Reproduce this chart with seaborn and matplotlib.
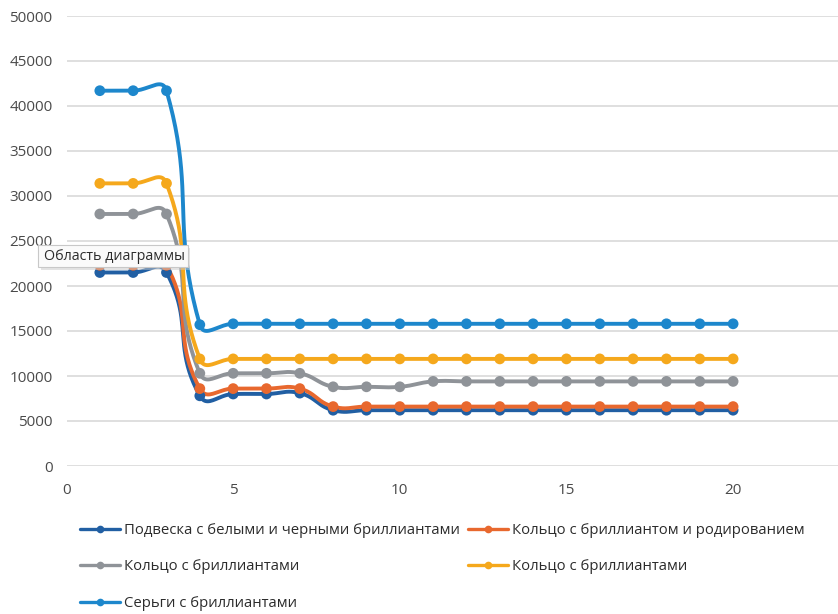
import numpy as np
import pandas as pd
import seaborn as sns
import matplotlib.pyplot as plt
from matplotlib.lines import Line2D
from matplotlib.patches import FancyBboxPatch

# --- data -------------------------------------------------------------
x = list(range(1, 21))

podveska = [21500, 21500, 21500, 7800, 8000, 8000, 8100] + [6200] * 13
koltso_rod = [22300, 22300, 22300, 8600, 8600, 8600, 8600] + [6600] * 13
koltso_gray = [28000, 28000, 28000, 10300, 10300, 10300, 10300,
               8800, 8800, 8800] + [9400] * 10
koltso_yellow = [31400, 31400, 31400, 11900] + [11900] * 16
sergi = [41700, 41700, 41700, 15700] + [15800] * 16

series_names = [
    "Подвеска с белыми и черными бриллиантами",
    "Кольцо с бриллиантом и родированием",
    "Кольцо с бриллиантами",
    "Кольцо с бриллиантами",
    "Серьги с бриллиантами",
]
series_values = [podveska, koltso_rod, koltso_gray, koltso_yellow, sergi]
colors = ["#215fa3", "#e8682e", "#8f9398", "#f5a81c", "#1d87cc"]

y_ticks = [0, 5000, 10000, 15000, 20000, 25000, 30000, 35000, 40000, 45000, 50000]
x_ticks = [0, 5, 10, 15, 20]

# --- layout -----------------------------------------------------------
W, H = 838, 614
X0, PX_PER_X = 66.5, 33.33      # pixel of x=0, pixels per x unit
Y0, Y50 = 466, 16               # pixel rows of y=0 and y=50000
PX_PER_Y = (Y0 - Y50) / 50000


def smooth(xs, ys, k=0.45, n=24):
    """Bezier smoothing in screen space (control arms scaled by segment length)."""
    P = np.column_stack([np.asarray(xs, float) * PX_PER_X,
                         np.asarray(ys, float) * PX_PER_Y])
    m = len(P)
    out = []
    t = np.linspace(0, 1, n)[:, None]
    for i in range(m - 1):
        p0, p1 = P[i], P[i + 1]
        seg = np.linalg.norm(p1 - p0)
        a = P[max(i - 1, 0)]
        b = P[min(i + 2, m - 1)]
        d0 = p1 - a
        d1 = b - p0
        d0 = d0 / (np.linalg.norm(d0) or 1)
        d1 = d1 / (np.linalg.norm(d1) or 1)
        c0 = p0 + d0 * seg * k
        c1 = p1 - d1 * seg * k
        pts = ((1 - t) ** 3) * p0 + 3 * ((1 - t) ** 2) * t * c0 \
            + 3 * (1 - t) * t ** 2 * c1 + t ** 3 * p1
        out.append(pts if i == 0 else pts[1:])
    pts = np.vstack(out)
    return pts[:, 0] / PX_PER_X, pts[:, 1] / PX_PER_Y


sns.set_style("white")
plt.rcParams["font.family"] = ["Open Sans", "DejaVu Sans"]

fig = plt.figure(figsize=(W / 100, H / 100), dpi=100)
ax = fig.add_axes([X0 / W, 1 - Y0 / H, (W - X0) / W, (Y0 - Y50) / H])
ax.set_xlim(0, (W - X0) / PX_PER_X)
ax.set_ylim(0, 50000)

for yv in y_ticks:
    ax.axhline(yv, color="#d9d9d9", lw=1.2, zorder=0)

for name, vals, col in zip(series_names, series_values, colors):
    sx, sy = smooth(x, vals)
    sns.lineplot(x=sx, y=sy, sort=False, color=col, lw=2.8, ax=ax,
                 legend=False, zorder=3, solid_capstyle="round")
    sns.scatterplot(x=x, y=vals, color=col, s=60, edgecolor="none",
                    ax=ax, legend=False, zorder=4, clip_on=False)

for s in ax.spines.values():
    s.set_visible(False)
ax.set_xticks(x_ticks)
ax.set_yticks(y_ticks)
ax.set_xticklabels([str(v) for v in x_ticks])
ax.set_yticklabels([str(v) for v in y_ticks])
ax.tick_params(axis="both", length=0, labelsize=11, labelcolor="#4a4a4a")
ax.tick_params(axis="y", pad=10)
ax.tick_params(axis="x", pad=12)
ax.set_xlabel("")
ax.set_ylabel("")

# legend: two columns, filled row by row
handles = [Line2D([0], [0], color=c, lw=2.4, marker="o", markersize=5.5,
                  markeredgewidth=0) for c in colors]
order = [0, 2, 4, 1, 3]
leg = fig.legend([handles[i] for i in order], [series_names[i] for i in order],
                 ncol=2, loc="upper left", bbox_to_anchor=(80 / W, 1 - 523 / H),
                 frameon=False, fontsize=10.7, handlelength=2.7,
                 handletextpad=0.25, columnspacing=0.54, labelspacing=1.44,
                 borderaxespad=0, borderpad=0)
for t in leg.get_texts():
    t.set_color("#2c2c2c")

# chart-area hint box
fig.patches.append(FancyBboxPatch((41 / W, 1 - 270 / H), 149 / W, 22 / H,
                                  boxstyle="square,pad=0", transform=fig.transFigure,
                                  facecolor="#c8c8c8", edgecolor="none", alpha=0.5,
                                  zorder=9))
fig.patches.append(FancyBboxPatch((38 / W, 1 - 267 / H), 150 / W, 22 / H,
                                  boxstyle="square,pad=0", transform=fig.transFigure,
                                  facecolor="#fafafa", edgecolor="#c8c8c8", lw=0.8,
                                  zorder=10))
fig.text(44 / W, 1 - 256 / H, "Область диаграммы", fontsize=10.3, color="#2c2c2c",
         va="center", ha="left", zorder=11)

fig.savefig("out.png", dpi=100)
